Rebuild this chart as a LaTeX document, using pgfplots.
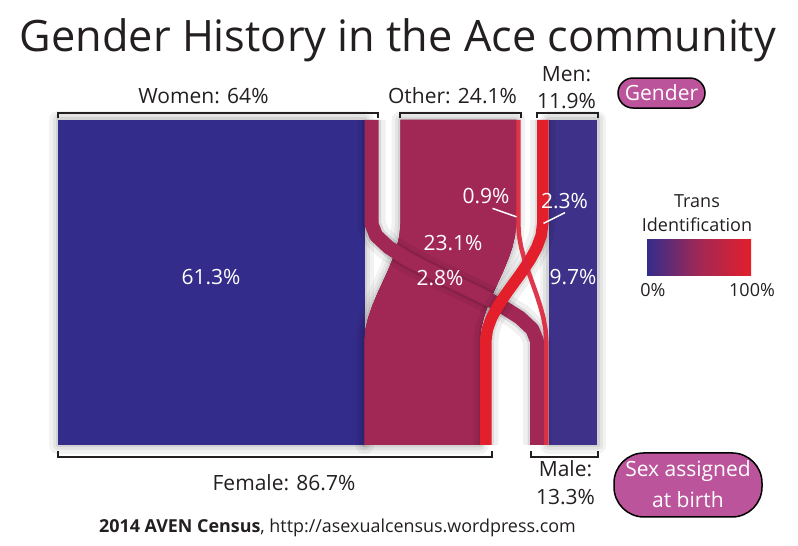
\documentclass[border=0pt]{standalone}
\usepackage{fontspec}
\setmainfont{Open Sans}
\usepackage{pgfplots}
\pgfplotsset{compat=1.18}
\definecolor{cblue}{HTML}{342C8B}
\definecolor{mblue}{HTML}{3D3189}
\definecolor{cmauve}{HTML}{A12855}
\definecolor{cred}{HTML}{E31F2B}
\definecolor{thinred}{HTML}{DC2238}
\definecolor{pill}{HTML}{BB549B}
\definecolor{ink}{HTML}{231F20}
\newcommand{\fs}[1]{\fontsize{#1}{#1}\selectfont}
\tikzset{
  halo/.style={preaction={draw=black,draw opacity=0.05,line width=18pt,line join=round},
               preaction={draw=black,draw opacity=0.06,line width=11pt,line join=round},
               preaction={draw=black,draw opacity=0.08,line width=5pt,line join=round}},
  brk/.style={draw=ink,line width=2pt},
  lab/.style={text=ink,inner sep=0pt,font=\fs{21}},
  wlab/.style={text=white,inner sep=0pt,font=\fs{21}},
}
\begin{document}
\begin{tikzpicture}
\begin{axis}[
  width=798pt, height=546pt, scale only axis,
  xmin=-11.6, xmax=148, ymin=-31.08, ymax=136.92,
  hide axis, clip=false,
]
\path (axis cs:-11.6,-31.08) rectangle (axis cs:148,136.92);

% straight flows: women -> female, men -> male
\addplot[fill=cblue, draw=none, halo] coordinates {(0,0) (61.3,0) (61.3,100) (0,100)} -- cycle;
\addplot[fill=mblue, draw=none, halo] coordinates {(98.1,0) (107.8,0) (107.8,100) (98.1,100)} -- cycle;

% other -> female, 23.1%
\addplot[fill=cmauve, draw=none, halo] coordinates {
  (68.5,100) (68.5,68) (68.30,64.4) (67.75,60.8) (66.94,57.2) (65.97,53.6) (64.9,50)
  (63.83,46.4) (62.86,42.8) (62.05,39.2) (61.50,35.6) (61.3,32) (61.3,0)
  (84.4,0) (84.4,32) (84.60,35.6) (85.15,39.2) (85.96,42.8) (86.93,46.4) (88.0,50)
  (89.07,53.6) (90.04,57.2) (90.85,60.8) (91.40,64.4) (91.6,68) (91.6,100)
} -- cycle;

% women -> male, 2.8%
\addplot[draw=cmauve, line width=14pt, line join=round, no marks,
  preaction={draw=black,draw opacity=0.06,line width=28pt,line join=round},
  preaction={draw=black,draw opacity=0.10,line width=19pt,line join=round}] coordinates {
  (62.7,100) (62.7,68) (63.63,64.4) (66.14,60.8) (69.85,57.2) (74.35,53.6) (79.25,50)
  (84.15,46.4) (88.65,42.8) (92.36,39.2) (94.87,35.6) (95.8,32) (95.8,0)
};

% men -> female, 2.3%
\addplot[draw=cred, line width=11.5pt, line join=round, no marks,
  preaction={draw=black,draw opacity=0.06,line width=25pt,line join=round},
  preaction={draw=black,draw opacity=0.08,line width=16pt,line join=round}] coordinates {
  (96.95,100) (96.95,68) (96.63,64.4) (95.76,60.8) (94.49,57.2) (92.94,53.6) (91.25,50)
  (89.56,46.4) (88.01,42.8) (86.74,39.2) (85.87,35.6) (85.55,32) (85.55,0)
};

% other -> male, 0.9%
\addplot[draw=thinred, draw opacity=0.9, line width=4.5pt, line join=round, no marks] coordinates {
  (92.05,100) (92.05,68) (92.21,64.4) (92.63,60.8) (93.26,57.2) (94.02,53.6) (94.85,50)
  (95.68,46.4) (96.44,42.8) (97.07,39.2) (97.49,35.6) (97.65,32) (97.65,0)
};

% brackets
\draw[brk] (axis cs:0,100.6) -- (axis cs:0,102.3) -- (axis cs:64.0,102.3) -- (axis cs:64.0,100.6);
\draw[brk] (axis cs:68.4,100.6) -- (axis cs:68.4,102.3) -- (axis cs:92.6,102.3) -- (axis cs:92.6,100.6);
\draw[brk] (axis cs:95.8,100.6) -- (axis cs:95.8,102.3) -- (axis cs:108,102.3) -- (axis cs:108,100.6);
\draw[brk] (axis cs:0,-1.9) -- (axis cs:0,-3.7) -- (axis cs:86.8,-3.7) -- (axis cs:86.8,-1.9);
\draw[brk] (axis cs:94.6,-1.9) -- (axis cs:94.6,-3.7) -- (axis cs:108,-3.7) -- (axis cs:108,-1.9);

% labels
\node[font=\fs{43.3}, text=ink, inner sep=0pt] at (axis cs:68,124.6) {Gender History in the Ace community};
\node[lab] at (axis cs:29.1,107.4) {Women: 64\%};
\node[lab] at (axis cs:78.9,107.4) {Other: 24.1\%};
\node[lab] at (axis cs:101.7,114.2) {Men:};
\node[lab] at (axis cs:101.7,105.8) {11.9\%};
\node[lab] at (axis cs:45.2,-11.7) {Female: 86.7\%};
\node[lab] at (axis cs:101.5,-7.4) {Male:};
\node[lab] at (axis cs:101.5,-16) {13.3\%};
\node[text=ink, inner sep=0pt, font=\fs{17.9}] at (axis cs:55.9,-25.5)
  {\textbf{2014 AVEN Census}, http://asexualcensus.wordpress.com};

\node[wlab] at (axis cs:30.6,51.7) {61.3\%};
\node[wlab] at (axis cs:79,62.2) {23.1\%};
\node[wlab] at (axis cs:76.4,51.4) {2.8\%};
\node[wlab] at (axis cs:85.6,76.6) {0.9\%};
\node[wlab] at (axis cs:101.3,75.1) {2.3\%};
\node[wlab] at (axis cs:103,51.7) {9.7\%};
\draw[white, line width=1.5pt] (axis cs:86.9,72.8) -- (axis cs:91.7,70.2);
\draw[white, line width=1.5pt] (axis cs:101.4,71.5) -- (axis cs:97.1,68.2);

% colour scale
\node[text=ink, inner sep=0pt, font=\fs{18}] at (axis cs:127.8,75.1) {Trans};
\node[text=ink, inner sep=0pt, font=\fs{18}] at (axis cs:127.8,67.7) {Identification};
\shade[left color=cblue, right color=cred, middle color=cmauve]
  (axis cs:117.8,52) rectangle (axis cs:138.6,63.1);
\node[text=ink, inner sep=0pt, font=\fs{18}] at (axis cs:119,47.7) {0\%};
\node[text=ink, inner sep=0pt, font=\fs{18}] at (axis cs:138.8,47.7) {100\%};

% pills
\node[draw=black, line width=1.5pt, fill=pill, rounded corners=15pt,
      minimum width=87pt, minimum height=30pt, inner sep=0pt, text=white, font=\fs{21}]
  at (axis cs:120.7,108.3) {Gender};
\node[draw=black, line width=1.5pt, fill=pill, rounded corners=30pt,
      minimum width=148pt, minimum height=64pt, inner sep=0pt] at (axis cs:126,-12.3) {};
\node[text=white, inner sep=0pt, font=\fs{21}] at (axis cs:126,-8.1) {Sex assigned};
\node[text=white, inner sep=0pt, font=\fs{21}] at (axis cs:126,-16.7) {at birth};
\end{axis}
\end{tikzpicture}
\end{document}
